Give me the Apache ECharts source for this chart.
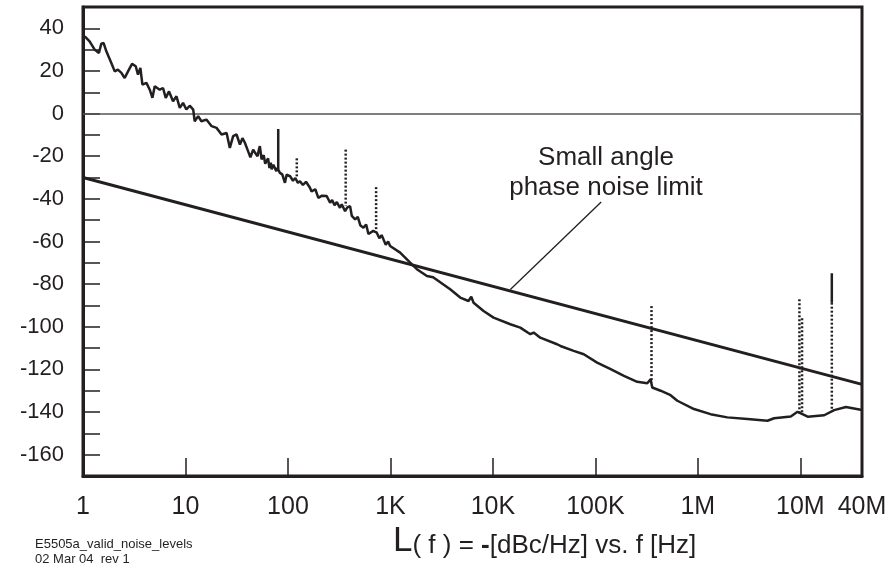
<!DOCTYPE html>
<html><head><meta charset="utf-8">
<script src="https://cdn.jsdelivr.net/npm/echarts@6/dist/echarts.min.js"></script>
<style>html,body{margin:0;padding:0;background:#fff}#c{width:895px;height:571px}</style>
</head><body><div id="c"></div>
<script>
// ---- data ----
const xTickValues = [1, 10, 100, 1e3, 1e4, 1e5, 1e6, 1e7, 4e7];
const xTickLabels = ['1', '10', '100', '1K', '10K', '100K', '1M', '10M', '40M'];
const noiseFreq = [1.04, 1.16, 1.30, 1.43, 1.51, 1.59, 1.69, 1.89, 2.04, 2.19, 2.37, 2.55, 2.75, 3.01, 3.27, 3.44, 3.63, 3.80, 4.16, 4.48,
  4.76, 5.01, 5.61, 6.04, 6.42, 6.91, 7.56, 8.17, 8.80, 9.47, 10.2, 11.0, 11.9, 12.3, 13.3, 14.3, 16.0, 18.0, 20.1, 22.5,
  25.2, 27.1, 29.2, 31.5, 34.0, 36.0, 38.0, 40.9, 43.0, 45.8, 48.0, 50.5, 52.0, 53.2, 55.3, 58.0, 60.0, 61.9, 64.0, 66.0,
  68.0, 69.3, 72.0, 74.6, 77.0, 79.0, 83.5, 88.0, 93.5, 97.0, 105, 112, 118, 125, 131, 140, 150, 164, 170, 177,
  185, 198, 215, 239, 258, 270, 285, 300, 322, 335, 361, 380, 404, 420, 452, 480, 510, 545, 580, 610,
  634, 680, 736, 780, 820, 855, 900, 950, 993, 1244, 1559, 1812, 2270, 2610, 3830, 4800, 5780, 6150, 6480, 8110,
  10150, 14800, 18500, 23200, 25000, 29000, 42300, 45600, 61500, 77100, 104000, 141000, 190000, 256000, 321000, 346000, 359000, 433000, 542000, 631000,
  917000, 1.33e6, 1.94e6, 3.05e6, 4.78e6, 5.55e6, 8.07e6, 9.39e6, 10.5e6, 11.8e6, 17.1e6, 21.4e6, 27.9e6, 4e7];
const noiseLevel = [36.2, 33.9, 30, 28.4, 32.8, 33.1, 29.2, 23.7, 19.8, 20.6, 19.1, 16.7, 19.8, 23.3, 22.2, 18.3, 21.4, 13.6, 14.4, 11.2,
  7.4, 12.8, 11.2, 12, 7.4, 10.4, 5.8, 8.1, 2.7, 5, 1.9, 3.7, 1.9, -3.6, -1.2, -3.6, -2.8, -5.9, -6.7, -9.8,
  -9.1, -16.1, -10.6, -9.8, -14.5, -11.5, -13.7, -17.7, -20.5, -16.9, -18.5, -20, -17, -15.3, -21.5, -19.5, -23.5, -22.3, -21, -25.5,
  -23, -26.2, -24, -24.7, -27, -25.5, -27.8, -28.5, -32.5, -28.7, -29.4, -31.5, -30.2, -32.5, -31.7, -33.5, -32, -34.8, -36.5, -37.1,
  -35.5, -39.5, -38.5, -38.7, -41.8, -40.5, -43, -41.5, -44.2, -42.5, -45.8, -44, -43.4, -48, -49.6, -48.5, -52.5, -53.5, -52, -56.5,
  -55.9, -55, -55.9, -58.5, -57, -59, -61.5, -60, -62.1, -65.2, -69.9, -73, -76.2, -76.8, -82.4, -86.3, -87.9, -85.9, -88.7, -92.6,
  -95.7, -98.8, -100.4, -103.5, -102.7, -105.1, -108.2, -109, -111.3, -112.9, -116.8, -119.9, -123, -125.8, -126.5, -124.6, -128.5, -130, -132.1, -134.7,
  -138.6, -141, -142.5, -143.3, -144.1, -142.9, -142.1, -139.9, -141, -142.2, -141.5, -139.1, -137.6, -139];
const limitFreq = [1, 4e7];
const limitLevel = [-30, -127];
const spurFreq = [80.4, 122, 366, 725, 353000, 9.8e6, 10.4e6, 20.3e6, 20.3e6];
const spurTop = [-7.2, -21, -16.9, -34.5, -90.3, -87.1, -96, -74.9, -88.7];
const spurBottom = [-26, -29.5, -43.4, -55.7, -126, -141, -141, -88.7, -139];
const spurDotted = [false, true, true, true, true, true, true, false, true];
const leaderFreq = [114000, 14800];
const leaderLevel = [-41.5, -82.5];
const annotationLines = ['Small angle', 'phase noise limit'];
const footnoteLines = ['E5505a_valid_noise_levels', '02 Mar 04  rev 1'];

// ---- chart ----
const INK = '#231f20';
const FONT = '"Liberation Sans", Arial, sans-serif';
const chart = echarts.init(document.getElementById('c'), null, { renderer: 'canvas' });

const series = [];
series.push({
  type: 'line', name: 'noise', showSymbol: false, symbol: 'none', z: 5,
  data: noiseFreq.map((f, i) => [f, noiseLevel[i]]),
  lineStyle: { color: INK, width: 2.5 },
  markLine: {
    silent: true, symbol: ['none', 'none'], label: { show: false },
    lineStyle: { color: '#555', width: 1.5, type: 'solid' },
    data: [{ yAxis: 0 }]
  }
});
series.push({
  type: 'line', name: 'limit', showSymbol: false, symbol: 'none', z: 4,
  data: limitFreq.map((f, i) => [f, limitLevel[i]]),
  lineStyle: { color: INK, width: 3 }
});
series.push({
  type: 'line', name: 'leader', showSymbol: false, symbol: 'none', z: 4,
  data: leaderFreq.map((f, i) => [f, leaderLevel[i]]),
  lineStyle: { color: INK, width: 1.3 }
});
spurFreq.forEach((f, i) => {
  series.push({
    type: 'line', showSymbol: false, symbol: 'none', z: 6,
    data: [[f, spurTop[i]], [f, spurBottom[i]]],
    lineStyle: { color: INK, width: 2.5, type: spurDotted[i] ? [2, 2] : 'solid' }
  });
});

function xLabel(v) {
  for (let i = 0; i < xTickValues.length; i++) {
    if (Math.abs(Math.log10(v) - Math.log10(xTickValues[i])) < 0.01) return xTickLabels[i];
  }
  return '';
}

chart.setOption({
  animation: false,
  backgroundColor: '#fff',
  grid: { left: 83, right: 33, top: 7, bottom: 95, show: true, borderColor: INK, borderWidth: 3, containLabel: false },
  xAxis: {
    type: 'log', logBase: 10, min: 1, max: 4e7,
    axisLine: { show: true, onZero: false, lineStyle: { color: INK, width: 3 } },
    axisTick: { show: true, inside: true, length: 18, lineStyle: { color: INK, width: 1.5 } },
    minorTick: { show: false },
    splitLine: { show: false },
    axisLabel: { margin: 19, color: INK, fontSize: 25, fontFamily: FONT, formatter: xLabel, showMinLabel: true, showMaxLabel: true }
  },
  yAxis: {
    type: 'value', min: -170, max: 50, interval: 10,
    axisLine: { show: true, onZero: false, lineStyle: { color: INK, width: 3 } },
    axisTick: { show: true, inside: true, length: 17, lineStyle: { color: INK, width: 1.5 } },
    splitLine: { show: false },
    axisLabel: { margin: 19, color: INK, fontSize: 22, fontFamily: FONT,
      formatter: v => (v % 20 === 0 ? String(v) : '') }
  },
  series: series,
  graphic: [
    { type: 'text', x: 606, y: 143, style: { text: annotationLines.join('\n'), fill: INK, font: '26px ' + FONT, align: 'center', lineHeight: 30 } },
    { type: 'text', x: 393, y: 524, style: {
        text: '{a|L}{b|( f ) = }{c|-}{b|[dBc/Hz] vs. f [Hz]}',
        rich: {
          a: { font: '35px ' + FONT, fill: INK, verticalAlign: 'bottom' },
          b: { font: '26px ' + FONT, fill: INK, verticalAlign: 'bottom' },
          c: { font: 'bold 26px ' + FONT, fill: INK, verticalAlign: 'bottom' }
        }
      } },
    { type: 'text', x: 35, y: 537, style: { text: footnoteLines.join('\n'), fill: INK, font: '13px ' + FONT, lineHeight: 15 } }
  ]
});
</script>
</body></html>
